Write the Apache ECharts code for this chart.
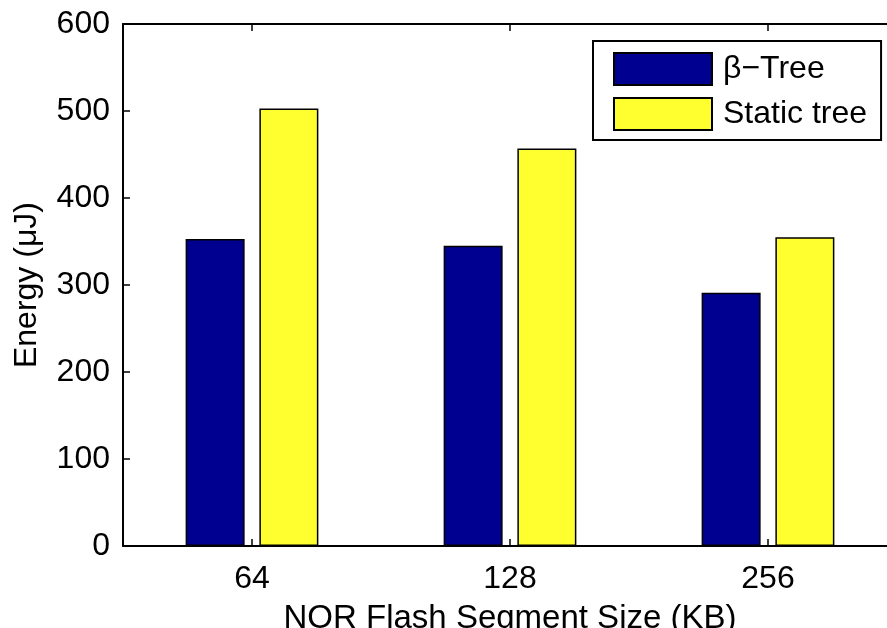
<!DOCTYPE html>
<html>
<head>
<meta charset="utf-8">
<script src="https://cdn.jsdelivr.net/npm/echarts@6/dist/echarts.min.js"></script>
<style>html,body{margin:0;padding:0;background:#fff;}#c{width:887px;height:628px;}</style>
</head>
<body>
<div id="c"></div>
<script>
var categories = ['64', '128', '256'];
var betaTree = [353, 345, 291];
var staticTree = [503, 457, 355];
var yTicks = {min: 0, max: 600, interval: 100};
var seriesNames = ['\u03B2\u2212Tree', 'Static tree'];

var FONT = 'Liberation Sans, Arial, Helvetica, sans-serif';
var chart = echarts.init(document.getElementById('c'));
chart.setOption({
  animation: false,
  backgroundColor: '#fff',
  textStyle: {fontFamily: FONT},
  grid: {left: 123, top: 24, width: 774, height: 522, containLabel: false, outerBoundsMode: 'none'},
  legend: {
    orient: 'vertical', left: 593, top: 41,
    padding: [11, 14, 9, 20],
    itemWidth: 98, itemHeight: 32, itemGap: 11,
    icon: 'rect',
    borderColor: '#000', borderWidth: 2,
    textStyle: {fontSize: 32, lineHeight: 32, color: '#000', fontFamily: FONT, padding: [0, 0, 0, 6]},
    data: seriesNames
  },
  xAxis: [{
    type: 'category', data: categories, position: 'bottom',
    name: 'NOR Flash Segment Size (KB)', nameLocation: 'middle', nameGap: 56,
    nameTextStyle: {fontSize: 33, color: '#000', fontFamily: FONT},
    axisLine: {show: true, lineStyle: {color: '#000', width: 2}},
    axisTick: {show: true, inside: true, alignWithLabel: true, length: 7, lineStyle: {color: '#000', width: 1.5}},
    axisLabel: {fontSize: 32, color: '#000', margin: 17, fontFamily: FONT},
    splitLine: {show: false}
  }, {
    type: 'category', data: categories, position: 'top',
    axisLine: {show: true, lineStyle: {color: '#000', width: 2}},
    axisTick: {show: true, inside: true, alignWithLabel: true, length: 7, lineStyle: {color: '#000', width: 1.5}},
    axisLabel: {show: false},
    splitLine: {show: false}
  }],
  yAxis: {
    type: 'value', min: yTicks.min, max: yTicks.max, interval: yTicks.interval,
    name: 'Energy (\u03BCJ)', nameLocation: 'middle', nameGap: 80,
    nameTextStyle: {fontSize: 32, color: '#000', fontFamily: FONT},
    axisLine: {show: true, lineStyle: {color: '#000', width: 2}},
    axisTick: {show: true, inside: true, length: 7, lineStyle: {color: '#000', width: 1.5}},
    axisLabel: {fontSize: 32, color: '#000', margin: 13, fontFamily: FONT},
    splitLine: {show: false}
  },
  series: [{
    name: seriesNames[0], type: 'bar', data: betaTree,
    barWidth: 59, barGap: '25%',
    itemStyle: {color: '#000090', borderColor: '#000', borderWidth: 1.5}
  }, {
    name: seriesNames[1], type: 'bar', data: staticTree,
    barWidth: 59, barGap: '25%',
    itemStyle: {color: '#ffff30', borderColor: '#000', borderWidth: 1.5}
  }]
});
</script>
</body>
</html>
